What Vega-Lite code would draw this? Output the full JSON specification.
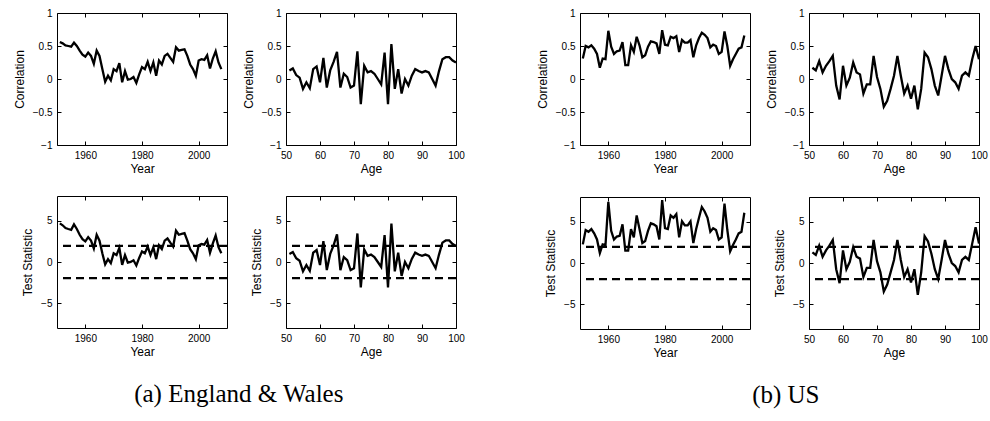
{
"$schema": "https://vega.github.io/schema/vega-lite/v6.json",
"padding": {"left": 12, "top": 7, "right": 1, "bottom": 5},
"datasets": {
"ewYear": [
{"year":1951,"r":0.56,"t":4.68},{"year":1952,"r":0.54,"t":4.45},{"year":1953,"r":0.51,"t":4.11},{"year":1954,"r":0.50,"t":4.00},{"year":1955,"r":0.49,"t":3.90},{"year":1956,"r":0.55,"t":4.56},{"year":1957,"r":0.50,"t":4.00},{"year":1958,"r":0.43,"t":3.30},{"year":1959,"r":0.37,"t":2.76},{"year":1960,"r":0.34,"t":2.50},
{"year":1961,"r":0.40,"t":3.02},{"year":1962,"r":0.35,"t":2.59},{"year":1963,"r":0.23,"t":1.64},{"year":1964,"r":0.43,"t":3.30},{"year":1965,"r":0.35,"t":2.59},{"year":1966,"r":0.15,"t":1.05},{"year":1967,"r":-0.04,"t":-0.28},{"year":1968,"r":0.05,"t":0.35},{"year":1969,"r":-0.02,"t":-0.14},{"year":1970,"r":0.15,"t":1.05},
{"year":1971,"r":0.12,"t":0.84},{"year":1972,"r":0.24,"t":1.71},{"year":1973,"r":-0.05,"t":-0.35},{"year":1974,"r":0.12,"t":0.84},{"year":1975,"r":-0.01,"t":-0.07},{"year":1976,"r":0.00,"t":0.00},{"year":1977,"r":0.03,"t":0.21},{"year":1978,"r":-0.06,"t":-0.42},{"year":1979,"r":0.07,"t":0.49},{"year":1980,"r":0.18,"t":1.27},
{"year":1981,"r":0.15,"t":1.05},{"year":1982,"r":0.26,"t":1.87},{"year":1983,"r":0.12,"t":0.84},{"year":1984,"r":0.25,"t":1.79},{"year":1985,"r":0.05,"t":0.35},{"year":1986,"r":0.28,"t":2.02},{"year":1987,"r":0.22,"t":1.56},{"year":1988,"r":0.35,"t":2.59},{"year":1989,"r":0.38,"t":2.85},{"year":1990,"r":0.32,"t":2.34},
{"year":1991,"r":0.26,"t":1.87},{"year":1992,"r":0.48,"t":3.79},{"year":1993,"r":0.43,"t":3.30},{"year":1994,"r":0.44,"t":3.40},{"year":1995,"r":0.45,"t":3.49},{"year":1996,"r":0.35,"t":2.59},{"year":1997,"r":0.22,"t":1.56},{"year":1998,"r":0.15,"t":1.05},{"year":1999,"r":0.05,"t":0.35},{"year":2000,"r":0.28,"t":2.02},
{"year":2001,"r":0.30,"t":2.18},{"year":2002,"r":0.29,"t":2.10},{"year":2003,"r":0.36,"t":2.67},{"year":2004,"r":0.16,"t":1.12},{"year":2005,"r":0.31,"t":2.26},{"year":2006,"r":0.42,"t":3.21},{"year":2007,"r":0.25,"t":1.79},{"year":2008,"r":0.15,"t":1.05}
],
"usYear": [
{"year":1951,"r":0.31,"t":2.26},{"year":1952,"r":0.50,"t":4.00},{"year":1953,"r":0.48,"t":3.79},{"year":1954,"r":0.51,"t":4.11},{"year":1955,"r":0.46,"t":3.59},{"year":1956,"r":0.38,"t":2.85},{"year":1957,"r":0.17,"t":1.20},{"year":1958,"r":0.31,"t":2.26},{"year":1959,"r":0.30,"t":2.18},{"year":1960,"r":0.73,"t":7.40},
{"year":1961,"r":0.49,"t":3.90},{"year":1962,"r":0.38,"t":2.85},{"year":1963,"r":0.42,"t":3.21},{"year":1964,"r":0.43,"t":3.30},{"year":1965,"r":0.56,"t":4.68},{"year":1966,"r":0.21,"t":1.49},{"year":1967,"r":0.21,"t":1.49},{"year":1968,"r":0.51,"t":4.11},{"year":1969,"r":0.41,"t":3.11},{"year":1970,"r":0.64,"t":5.77},
{"year":1971,"r":0.51,"t":4.11},{"year":1972,"r":0.33,"t":2.42},{"year":1973,"r":0.36,"t":2.67},{"year":1974,"r":0.49,"t":3.90},{"year":1975,"r":0.57,"t":4.81},{"year":1976,"r":0.56,"t":4.68},{"year":1977,"r":0.54,"t":4.45},{"year":1978,"r":0.38,"t":2.85},{"year":1979,"r":0.74,"t":7.62},{"year":1980,"r":0.52,"t":4.22},
{"year":1981,"r":0.51,"t":4.11},{"year":1982,"r":0.64,"t":5.77},{"year":1983,"r":0.62,"t":5.48},{"year":1984,"r":0.65,"t":5.93},{"year":1985,"r":0.41,"t":3.11},{"year":1986,"r":0.59,"t":5.06},{"year":1987,"r":0.55,"t":4.56},{"year":1988,"r":0.55,"t":4.56},{"year":1989,"r":0.59,"t":5.06},{"year":1990,"r":0.33,"t":2.42},
{"year":1991,"r":0.51,"t":4.11},{"year":1992,"r":0.62,"t":5.48},{"year":1993,"r":0.70,"t":6.79},{"year":1994,"r":0.67,"t":6.25},{"year":1995,"r":0.62,"t":5.48},{"year":1996,"r":0.48,"t":3.79},{"year":1997,"r":0.52,"t":4.22},{"year":1998,"r":0.50,"t":4.00},{"year":1999,"r":0.38,"t":2.85},{"year":2000,"r":0.41,"t":3.11},
{"year":2001,"r":0.72,"t":7.19},{"year":2002,"r":0.50,"t":4.00},{"year":2003,"r":0.20,"t":1.41},{"year":2004,"r":0.30,"t":2.18},{"year":2005,"r":0.38,"t":2.85},{"year":2006,"r":0.46,"t":3.59},{"year":2007,"r":0.48,"t":3.79},{"year":2008,"r":0.66,"t":6.09}
],
"ewAge": [
{"age":51,"r":0.13,"t":0.98},{"age":52,"r":0.16,"t":1.21},{"age":53,"r":0.06,"t":0.45},{"age":54,"r":0.02,"t":0.15},{"age":55,"r":-0.15,"t":-1.13},{"age":56,"r":-0.05,"t":-0.37},{"age":57,"r":-0.14,"t":-1.06},{"age":58,"r":0.15,"t":1.13},{"age":59,"r":0.19,"t":1.45},{"age":60,"r":-0.05,"t":-0.37},
{"age":61,"r":0.32,"t":2.53},{"age":62,"r":-0.13,"t":-0.98},{"age":63,"r":0.13,"t":0.98},{"age":64,"r":0.26,"t":2.01},{"age":65,"r":0.41,"t":3.36},{"age":66,"r":-0.13,"t":-0.98},{"age":67,"r":0.08,"t":0.60},{"age":68,"r":0.03,"t":0.22},{"age":69,"r":-0.13,"t":-0.98},{"age":70,"r":-0.10,"t":-0.75},
{"age":71,"r":0.42,"t":3.46},{"age":72,"r":-0.38,"t":-3.07},{"age":73,"r":0.20,"t":1.53},{"age":74,"r":0.10,"t":0.75},{"age":75,"r":0.12,"t":0.90},{"age":76,"r":0.08,"t":0.60},{"age":77,"r":0.00,"t":0.00},{"age":78,"r":-0.08,"t":-0.60},{"age":79,"r":0.40,"t":3.26},{"age":80,"r":-0.38,"t":-3.07},
{"age":81,"r":0.53,"t":4.67},{"age":82,"r":-0.15,"t":-1.13},{"age":83,"r":0.15,"t":1.13},{"age":84,"r":-0.22,"t":-1.69},{"age":85,"r":0.00,"t":0.00},{"age":86,"r":-0.10,"t":-0.75},{"age":87,"r":0.05,"t":0.37},{"age":88,"r":0.15,"t":1.13},{"age":89,"r":0.12,"t":0.90},{"age":90,"r":0.10,"t":0.75},
{"age":91,"r":0.12,"t":0.90},{"age":92,"r":0.10,"t":0.75},{"age":93,"r":0.00,"t":0.00},{"age":94,"r":-0.10,"t":-0.75},{"age":95,"r":0.12,"t":0.90},{"age":96,"r":0.30,"t":2.35},{"age":97,"r":0.33,"t":2.61},{"age":98,"r":0.33,"t":2.61},{"age":99,"r":0.28,"t":2.18},{"age":100,"r":0.25,"t":1.93}
],
"usAge": [
{"age":51,"r":0.17,"t":1.29},{"age":52,"r":0.13,"t":0.98},{"age":53,"r":0.27,"t":2.10},{"age":54,"r":0.10,"t":0.75},{"age":55,"r":0.20,"t":1.53},{"age":56,"r":0.27,"t":2.10},{"age":57,"r":0.35,"t":2.79},{"age":58,"r":-0.10,"t":-0.75},{"age":59,"r":-0.31,"t":-2.44},{"age":60,"r":0.20,"t":1.53},
{"age":61,"r":-0.10,"t":-0.75},{"age":62,"r":0.02,"t":0.15},{"age":63,"r":0.25,"t":1.93},{"age":64,"r":0.10,"t":0.75},{"age":65,"r":0.07,"t":0.53},{"age":66,"r":-0.22,"t":-1.69},{"age":67,"r":-0.08,"t":-0.60},{"age":68,"r":-0.08,"t":-0.60},{"age":69,"r":0.35,"t":2.79},{"age":70,"r":0.03,"t":0.22},
{"age":71,"r":-0.15,"t":-1.13},{"age":72,"r":-0.42,"t":-3.46},{"age":73,"r":-0.33,"t":-2.61},{"age":74,"r":-0.15,"t":-1.13},{"age":75,"r":0.05,"t":0.37},{"age":76,"r":0.35,"t":2.79},{"age":77,"r":0.05,"t":0.37},{"age":78,"r":-0.22,"t":-1.69},{"age":79,"r":-0.10,"t":-0.75},{"age":80,"r":-0.30,"t":-2.35},
{"age":81,"r":-0.10,"t":-0.75},{"age":82,"r":-0.46,"t":-3.87},{"age":83,"r":-0.15,"t":-1.13},{"age":84,"r":0.40,"t":3.26},{"age":85,"r":0.33,"t":2.61},{"age":86,"r":0.15,"t":1.13},{"age":87,"r":-0.10,"t":-0.75},{"age":88,"r":-0.25,"t":-1.93},{"age":89,"r":0.05,"t":0.37},{"age":90,"r":0.35,"t":2.79},
{"age":91,"r":0.15,"t":1.13},{"age":92,"r":0.00,"t":0.00},{"age":93,"r":-0.05,"t":-0.37},{"age":94,"r":-0.15,"t":-1.13},{"age":95,"r":0.05,"t":0.37},{"age":96,"r":0.10,"t":0.75},{"age":97,"r":0.05,"t":0.37},{"age":98,"r":0.30,"t":2.35},{"age":99,"r":0.50,"t":4.32},{"age":100,"r":0.30,"t":2.35}
],
"crit": [{"v":1.96},{"v":-1.96}]
},
"hconcat": [
{
"title": {"text": "(a) England & Wales", "orient": "bottom", "anchor": "middle", "font": "Liberation Serif", "fontSize": 25, "fontWeight": "normal", "color": "black", "offset": 24},
"columns": 2, "spacing": {"row": 20, "column": 12},
"concat": [
{"width": 170, "height": 132, "data": {"name": "ewYear"},
 "resolve": {"axis": {"x": "independent", "y": "independent"}},
 "layer": [
  {"mark": {"type": "line", "color": "black", "strokeWidth": 2.3},
   "encoding": {"x": {"field": "year", "type": "quantitative", "scale": {"domain": [1950, 2010], "nice": false, "zero": false}, "axis": {"values": [1960, 1980, 2000], "format": "d", "title": "Year"}},
                "y": {"field": "r", "type": "quantitative", "scale": {"domain": [-1, 1], "nice": false}, "axis": {"values": [-1, -0.5, 0, 0.5, 1], "format": "~g", "title": "Correlation"}}}},
  {"mark": {"type": "line", "opacity": 0},
   "encoding": {"x": {"field": "year", "type": "quantitative", "axis": {"orient": "top", "values": [1960, 1980, 2000], "labels": false, "title": null}},
                "y": {"field": "r", "type": "quantitative", "axis": {"orient": "right", "values": [-1, -0.5, 0, 0.5, 1], "labels": false, "title": null}}}}
 ]},
{"width": 170, "height": 132, "data": {"name": "ewAge"},
 "resolve": {"axis": {"x": "independent", "y": "independent"}},
 "layer": [
  {"mark": {"type": "line", "color": "black", "strokeWidth": 2.3},
   "encoding": {"x": {"field": "age", "type": "quantitative", "scale": {"domain": [50, 100], "nice": false, "zero": false}, "axis": {"values": [50, 60, 70, 80, 90, 100], "format": "d", "title": "Age"}},
                "y": {"field": "r", "type": "quantitative", "scale": {"domain": [-1, 1], "nice": false}, "axis": {"values": [-1, -0.5, 0, 0.5, 1], "format": "~g", "title": "Correlation"}}}},
  {"mark": {"type": "line", "opacity": 0},
   "encoding": {"x": {"field": "age", "type": "quantitative", "axis": {"orient": "top", "values": [50, 60, 70, 80, 90, 100], "labels": false, "title": null}},
                "y": {"field": "r", "type": "quantitative", "axis": {"orient": "right", "values": [-1, -0.5, 0, 0.5, 1], "labels": false, "title": null}}}}
 ]},
{"width": 170, "height": 132,
 "resolve": {"axis": {"x": "independent", "y": "independent"}},
 "layer": [
  {"data": {"name": "crit"}, "mark": {"type": "rule", "color": "black", "strokeWidth": 2.3, "strokeDash": [8, 5]},
   "encoding": {"y": {"field": "v", "type": "quantitative", "axis": null}}},
  {"data": {"name": "ewYear"}, "mark": {"type": "line", "color": "black", "strokeWidth": 2.3},
   "encoding": {"x": {"field": "year", "type": "quantitative", "scale": {"domain": [1950, 2010], "nice": false, "zero": false}, "axis": {"values": [1960, 1980, 2000], "format": "d", "title": "Year"}},
                "y": {"field": "t", "type": "quantitative", "scale": {"domain": [-8, 8], "nice": false}, "axis": {"values": [-5, 0, 5], "format": "~g", "title": "Test Statistic"}}}},
  {"data": {"name": "ewYear"}, "mark": {"type": "line", "opacity": 0},
   "encoding": {"x": {"field": "year", "type": "quantitative", "axis": {"orient": "top", "values": [1960, 1980, 2000], "labels": false, "title": null}},
                "y": {"field": "t", "type": "quantitative", "axis": {"orient": "right", "values": [-5, 0, 5], "labels": false, "title": null}}}}
 ]},
{"width": 170, "height": 132,
 "resolve": {"axis": {"x": "independent", "y": "independent"}},
 "layer": [
  {"data": {"name": "crit"}, "mark": {"type": "rule", "color": "black", "strokeWidth": 2.3, "strokeDash": [8, 5]},
   "encoding": {"y": {"field": "v", "type": "quantitative", "axis": null}}},
  {"data": {"name": "ewAge"}, "mark": {"type": "line", "color": "black", "strokeWidth": 2.3},
   "encoding": {"x": {"field": "age", "type": "quantitative", "scale": {"domain": [50, 100], "nice": false, "zero": false}, "axis": {"values": [50, 60, 70, 80, 90, 100], "format": "d", "title": "Age"}},
                "y": {"field": "t", "type": "quantitative", "scale": {"domain": [-8, 8], "nice": false}, "axis": {"values": [-5, 0, 5], "format": "~g", "title": "Test Statistic"}}}},
  {"data": {"name": "ewAge"}, "mark": {"type": "line", "opacity": 0},
   "encoding": {"x": {"field": "age", "type": "quantitative", "axis": {"orient": "top", "values": [50, 60, 70, 80, 90, 100], "labels": false, "title": null}},
                "y": {"field": "t", "type": "quantitative", "axis": {"orient": "right", "values": [-5, 0, 5], "labels": false, "title": null}}}}
 ]}
]
},
{
"title": {"text": "(b) US", "orient": "bottom", "anchor": "middle", "font": "Liberation Serif", "fontSize": 25, "fontWeight": "normal", "color": "black", "offset": 24, "dx": 24},
"columns": 2, "spacing": {"row": 20, "column": 12},
"concat": [
{"width": 170, "height": 132, "data": {"name": "usYear"},
 "resolve": {"axis": {"x": "independent", "y": "independent"}},
 "layer": [
  {"mark": {"type": "line", "color": "black", "strokeWidth": 2.3},
   "encoding": {"x": {"field": "year", "type": "quantitative", "scale": {"domain": [1950, 2010], "nice": false, "zero": false}, "axis": {"values": [1960, 1980, 2000], "format": "d", "title": "Year"}},
                "y": {"field": "r", "type": "quantitative", "scale": {"domain": [-1, 1], "nice": false}, "axis": {"values": [-1, -0.5, 0, 0.5, 1], "format": "~g", "title": "Correlation"}}}},
  {"mark": {"type": "line", "opacity": 0},
   "encoding": {"x": {"field": "year", "type": "quantitative", "axis": {"orient": "top", "values": [1960, 1980, 2000], "labels": false, "title": null}},
                "y": {"field": "r", "type": "quantitative", "axis": {"orient": "right", "values": [-1, -0.5, 0, 0.5, 1], "labels": false, "title": null}}}}
 ]},
{"width": 170, "height": 132, "data": {"name": "usAge"},
 "resolve": {"axis": {"x": "independent", "y": "independent"}},
 "layer": [
  {"mark": {"type": "line", "color": "black", "strokeWidth": 2.3},
   "encoding": {"x": {"field": "age", "type": "quantitative", "scale": {"domain": [50, 100], "nice": false, "zero": false}, "axis": {"values": [50, 60, 70, 80, 90, 100], "format": "d", "title": "Age"}},
                "y": {"field": "r", "type": "quantitative", "scale": {"domain": [-1, 1], "nice": false}, "axis": {"values": [-1, -0.5, 0, 0.5, 1], "format": "~g", "title": "Correlation"}}}},
  {"mark": {"type": "line", "opacity": 0},
   "encoding": {"x": {"field": "age", "type": "quantitative", "axis": {"orient": "top", "values": [50, 60, 70, 80, 90, 100], "labels": false, "title": null}},
                "y": {"field": "r", "type": "quantitative", "axis": {"orient": "right", "values": [-1, -0.5, 0, 0.5, 1], "labels": false, "title": null}}}}
 ]},
{"width": 170, "height": 132,
 "resolve": {"axis": {"x": "independent", "y": "independent"}},
 "layer": [
  {"data": {"name": "crit"}, "mark": {"type": "rule", "color": "black", "strokeWidth": 2.3, "strokeDash": [8, 5]},
   "encoding": {"y": {"field": "v", "type": "quantitative", "axis": null}}},
  {"data": {"name": "usYear"}, "mark": {"type": "line", "color": "black", "strokeWidth": 2.3},
   "encoding": {"x": {"field": "year", "type": "quantitative", "scale": {"domain": [1950, 2010], "nice": false, "zero": false}, "axis": {"values": [1960, 1980, 2000], "format": "d", "title": "Year"}},
                "y": {"field": "t", "type": "quantitative", "scale": {"domain": [-8, 8], "nice": false}, "axis": {"values": [-5, 0, 5], "format": "~g", "title": "Test Statistic"}}}},
  {"data": {"name": "usYear"}, "mark": {"type": "line", "opacity": 0},
   "encoding": {"x": {"field": "year", "type": "quantitative", "axis": {"orient": "top", "values": [1960, 1980, 2000], "labels": false, "title": null}},
                "y": {"field": "t", "type": "quantitative", "axis": {"orient": "right", "values": [-5, 0, 5], "labels": false, "title": null}}}}
 ]},
{"width": 170, "height": 132,
 "resolve": {"axis": {"x": "independent", "y": "independent"}},
 "layer": [
  {"data": {"name": "crit"}, "mark": {"type": "rule", "color": "black", "strokeWidth": 2.3, "strokeDash": [8, 5]},
   "encoding": {"y": {"field": "v", "type": "quantitative", "axis": null}}},
  {"data": {"name": "usAge"}, "mark": {"type": "line", "color": "black", "strokeWidth": 2.3},
   "encoding": {"x": {"field": "age", "type": "quantitative", "scale": {"domain": [50, 100], "nice": false, "zero": false}, "axis": {"values": [50, 60, 70, 80, 90, 100], "format": "d", "title": "Age"}},
                "y": {"field": "t", "type": "quantitative", "scale": {"domain": [-8, 8], "nice": false}, "axis": {"values": [-5, 0, 5], "format": "~g", "title": "Test Statistic"}}}},
  {"data": {"name": "usAge"}, "mark": {"type": "line", "opacity": 0},
   "encoding": {"x": {"field": "age", "type": "quantitative", "axis": {"orient": "top", "values": [50, 60, 70, 80, 90, 100], "labels": false, "title": null}},
                "y": {"field": "t", "type": "quantitative", "axis": {"orient": "right", "values": [-5, 0, 5], "labels": false, "title": null}}}}
 ]}
]
}
],
"spacing": 70,
"config": {
 "view": {"stroke": "black", "strokeWidth": 1},
 "axis": {"domain": false, "grid": false, "ticks": true, "tickColor": "black", "tickWidth": 1, "tickSize": -4, "labelPadding": 9, "labelFont": "Liberation Sans", "labelFontSize": 10, "labelColor": "black", "labelFlush": false, "labelOverlap": false, "titleFont": "Liberation Sans", "titleFontSize": 12, "titleFontWeight": "normal", "titleColor": "black"},
 "axisX": {"titlePadding": 3},
 "axisY": {"titlePadding": 6}
}
}
